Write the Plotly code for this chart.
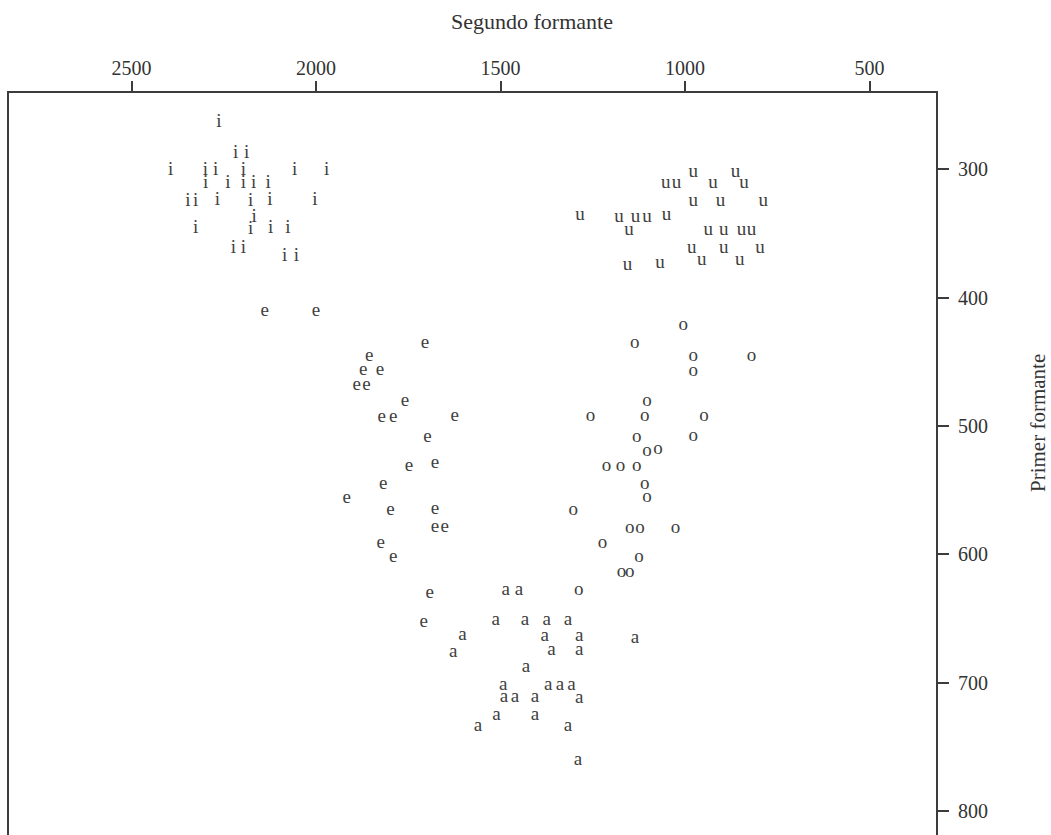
import plotly.graph_objects as go

# Vowel formant data (F2 = Segundo formante, F1 = Primer formante), in Hz
i_f2 = [2263, 2218, 2188, 2394, 2300, 2272, 2197, 2058, 1971,
        2299, 2239, 2197, 2169, 2130,
        2125, 2347, 2326, 2267, 2177, 2003,
        2168,
        2326, 2177, 2123, 2076,
        2224, 2197,
        2085, 2053]
i_f1 = [263, 287.5, 287.5, 301, 301, 301, 301, 301, 301,
        311, 311, 311, 311, 311,
        324, 325, 325, 324, 325, 324,
        337,
        346, 347, 346, 346,
        361.6, 361.6,
        367.6, 367.6]

e_f2 = [2139, 2000, 1705, 1856, 1872, 1827, 1890, 1863, 1759, 1822, 1791, 1624,
        1698, 1748, 1678, 1818, 1917, 1798, 1678, 1678, 1651, 1825, 1791, 1692, 1708]
e_f1 = [410.4, 410.4, 435.6, 446, 456.4, 456.4, 468, 468, 481, 492.8, 492.8, 492,
        508.8, 531, 529, 545.4, 556.4, 565.5, 564.7, 579, 579, 591.4, 601.9, 630.4, 653.3]

a_f2 = [1486, 1450, 1513, 1434, 1375, 1317, 1603, 1380, 1287, 1136, 1628, 1362, 1287,
        1431, 1493, 1371, 1339, 1308, 1491, 1461, 1407, 1287, 1511, 1407, 1561, 1317, 1290]
a_f1 = [628.3, 628.3, 651.7, 651.7, 651.7, 651.7, 662.9, 664.2, 664.2, 665.4, 675.9, 674.6, 674.6,
        687.6, 701.8, 701.8, 701.8, 701.8, 711.7, 711, 711, 712.2, 725.2, 725.2, 733.8, 734.3, 760.8]

o_f2 = [1005, 1136, 978, 820, 978, 1103, 1256, 1109, 949, 1131, 978, 1103, 1073,
        1213, 1175, 1131, 1109, 1103, 1303, 1150, 1122, 1026, 1224, 1125, 1172, 1150, 1288]
o_f1 = [421.3, 435.6, 446, 446, 457.7, 481, 492.2, 492.2, 492.2, 508.8, 507.8, 519.3, 518.2,
        531.2, 531.2, 531.2, 545.2, 555.6, 565.5, 579.3, 579.3, 579.3, 591.4, 602.3, 614.3, 614.3, 628.2]

u_f2 = [978, 863, 1052, 1023, 924, 840, 978, 904, 788,
        1285, 1179, 1134, 1103, 1050,
        1152, 937, 895, 847, 820,
        982, 895, 797,
        1156, 1068, 955, 852]
u_f1 = [302, 302, 311, 311, 311, 311, 325, 325, 325,
        336, 337, 337, 337, 336,
        347.3, 347.3, 347.3, 347.3, 347.3,
        361.6, 361.6, 361.6,
        374.6, 373, 370.7, 370.7]

vowels = [("i", i_f2, i_f1), ("e", e_f2, e_f1), ("a", a_f2, a_f1),
          ("o", o_f2, o_f1), ("u", u_f2, u_f1)]

x_ticks = [2500, 2000, 1500, 1000, 500]
y_ticks = [300, 400, 500, 600, 700, 800]

FONT = "Liberation Serif"
INK = "#3c3c3c"
TXT = "#333333"

fig = go.Figure()
for label, f2, f1 in vowels:
    fig.add_trace(go.Scatter(
        x=f2, y=f1, mode="text", text=[label] * len(f2),
        textposition="middle center",
        textfont=dict(family=FONT, size=19, color="#404040"),
        showlegend=False, hoverinfo="x+y", name=label))

fig.update_layout(
    width=1051, height=835,
    margin=dict(l=9, r=115, t=93, b=0),
    paper_bgcolor="white", plot_bgcolor="white",
    font=dict(family=FONT, color=TXT),
    xaxis=dict(side="top", range=[2832, 320], tickvals=x_ticks,
               ticktext=[str(v) for v in x_ticks],
               ticks="outside", ticklen=10, tickwidth=2, tickcolor=INK,
               showline=True, linewidth=2, linecolor=INK,
               showgrid=False, zeroline=False, ticklabelstandoff=-2,
               tickfont=dict(family=FONT, size=20, color=TXT)),
    yaxis=dict(side="right", range=[818.7, 240.5], tickvals=y_ticks,
               ticktext=[str(v) for v in y_ticks],
               ticks="outside", ticklen=11, tickwidth=2, tickcolor=INK,
               showline=True, mirror=True, linewidth=2, linecolor=INK,
               showgrid=False, zeroline=False, ticklabelstandoff=5,
               tickfont=dict(family=FONT, size=20, color=TXT)),
    annotations=[
        dict(text="Segundo formante", xref="paper", yref="paper",
             x=(532 - 9) / 927, y=1 + (93 - 22) / 742, showarrow=False,
             xanchor="center", yanchor="middle",
             font=dict(family=FONT, size=22, color=TXT)),
        dict(text="Primer formante", xref="paper", yref="paper",
             x=(1038 - 9) / 927, y=1 - (423 - 93) / 742, showarrow=False,
             textangle=-90, xanchor="center", yanchor="middle",
             font=dict(family=FONT, size=21, color=TXT)),
    ],
)

fig.write_html("out.html")
